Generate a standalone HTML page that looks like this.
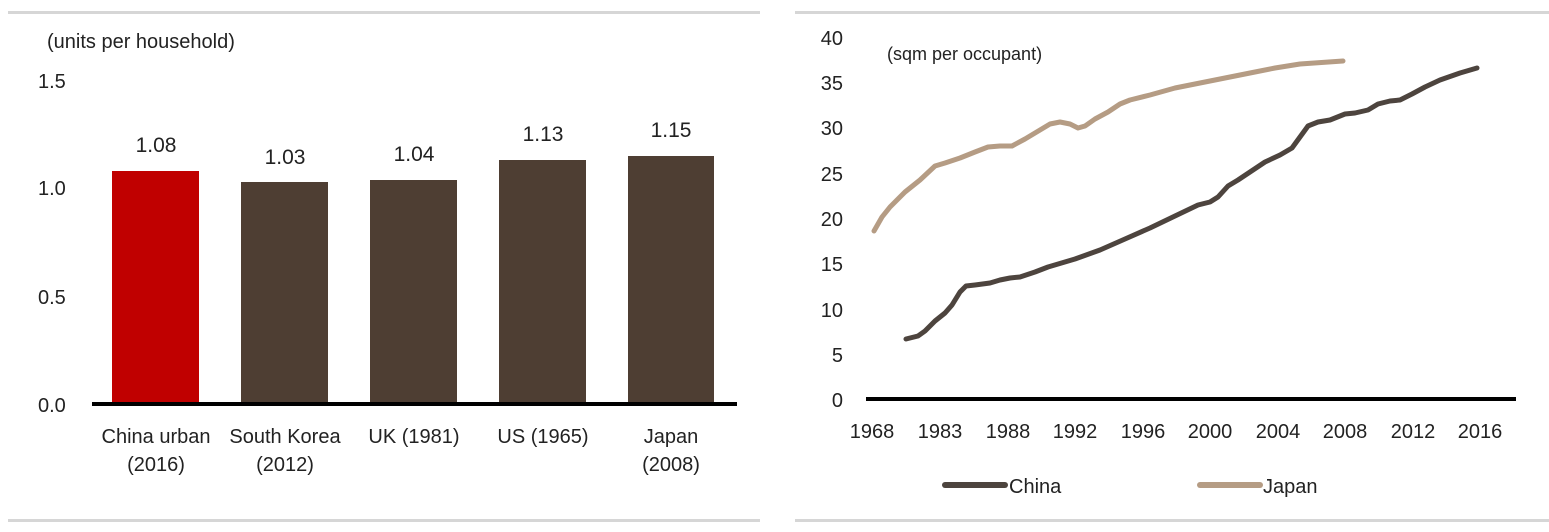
<!DOCTYPE html>
<html><head><meta charset="utf-8"><style>
html,body{margin:0;padding:0;background:#fff;}
svg text{font-family:"Liberation Sans Narrow","Liberation Sans",sans-serif;fill:#222;}
</style></head><body>
<svg width="1549" height="527" viewBox="0 0 1549 527" xmlns="http://www.w3.org/2000/svg">
<rect x="8" y="11" width="752" height="3" fill="#d6d6d6"/>
<rect x="8" y="519" width="752" height="3" fill="#d6d6d6"/>
<rect x="795" y="11" width="754" height="3" fill="#d6d6d6"/>
<rect x="795" y="519" width="754" height="3" fill="#d6d6d6"/>
<g font-size="20">
<text x="47" y="48">(units per household)</text>
<text x="38" y="88">1.5</text>
<text x="38" y="195">1.0</text>
<text x="38" y="304">0.5</text>
<text x="38" y="412">0.0</text>
</g>
<rect x="112" y="171" width="87" height="233" fill="#c00000"/>
<rect x="241" y="182" width="87" height="222" fill="#4e3e33"/>
<rect x="370" y="180" width="87" height="224" fill="#4e3e33"/>
<rect x="499" y="160" width="87" height="244" fill="#4e3e33"/>
<rect x="628" y="156" width="86" height="248" fill="#4e3e33"/>
<rect x="92" y="402" width="645" height="4" fill="#000"/>
<g font-size="21" text-anchor="middle">
<text x="156" y="152">1.08</text>
<text x="285" y="164">1.03</text>
<text x="414" y="161">1.04</text>
<text x="543" y="141">1.13</text>
<text x="671" y="137">1.15</text>
</g>
<g font-size="20" text-anchor="middle">
<text x="156" y="443">China urban</text><text x="156" y="471">(2016)</text>
<text x="285" y="443">South Korea</text><text x="285" y="471">(2012)</text>
<text x="414" y="443">UK (1981)</text>
<text x="543" y="443">US (1965)</text>
<text x="671" y="443">Japan</text><text x="671" y="471">(2008)</text>
</g>
<g font-size="20" text-anchor="end">
<text x="843" y="45">40</text><text x="843" y="90">35</text><text x="843" y="135">30</text>
<text x="843" y="181">25</text><text x="843" y="226">20</text><text x="843" y="271">15</text>
<text x="843" y="317">10</text><text x="843" y="362">5</text><text x="843" y="407">0</text>
</g>
<text x="887" y="60" font-size="18">(sqm per occupant)</text>
<rect x="866" y="397" width="650" height="4" fill="#000"/>
<g font-size="20" text-anchor="middle">
<text x="872" y="438">1968</text><text x="940" y="438">1983</text><text x="1008" y="438">1988</text>
<text x="1075" y="438">1992</text><text x="1143" y="438">1996</text><text x="1210" y="438">2000</text>
<text x="1278" y="438">2004</text><text x="1345" y="438">2008</text><text x="1413" y="438">2012</text>
<text x="1480" y="438">2016</text>
</g>
<polyline fill="none" stroke="#b59c84" stroke-width="5" stroke-linecap="round" stroke-linejoin="round"
points="874,231 882,217 890,207 898,199 905,192 920,180 935,166 945,163 960,158 975,152 988,147 1000,146 1012,146 1025,139 1040,130 1050,124 1060,122 1070,124 1078,128 1085,126 1095,119 1108,112 1120,104 1130,100 1150,95 1175,88 1200,83 1225,78 1250,73 1275,68 1300,64 1343,61"/>
<polyline fill="none" stroke="#4d443e" stroke-width="5" stroke-linecap="round" stroke-linejoin="round"
points="906,339 918,336 925,331 935,321 945,313 952,305 960,292 966,286 975,285 990,283 1000,280 1010,278 1020,277 1035,272 1048,267 1075,259 1100,250 1125,239 1150,228 1175,216 1198,205 1210,202 1218,197 1228,186 1238,180 1250,172 1265,162 1280,155 1292,148 1300,137 1308,126 1318,122 1330,120 1345,114 1355,113 1368,110 1378,104 1390,101 1400,100 1412,94 1425,87 1440,80 1460,73 1477,68"/>
<line x1="945" y1="485" x2="1005" y2="485" stroke="#4d443e" stroke-width="6" stroke-linecap="round"/>
<text x="1009" y="493" font-size="20">China</text>
<line x1="1200" y1="485" x2="1260" y2="485" stroke="#b59c84" stroke-width="6" stroke-linecap="round"/>
<text x="1263" y="493" font-size="20">Japan</text>
</svg>
</body></html>
